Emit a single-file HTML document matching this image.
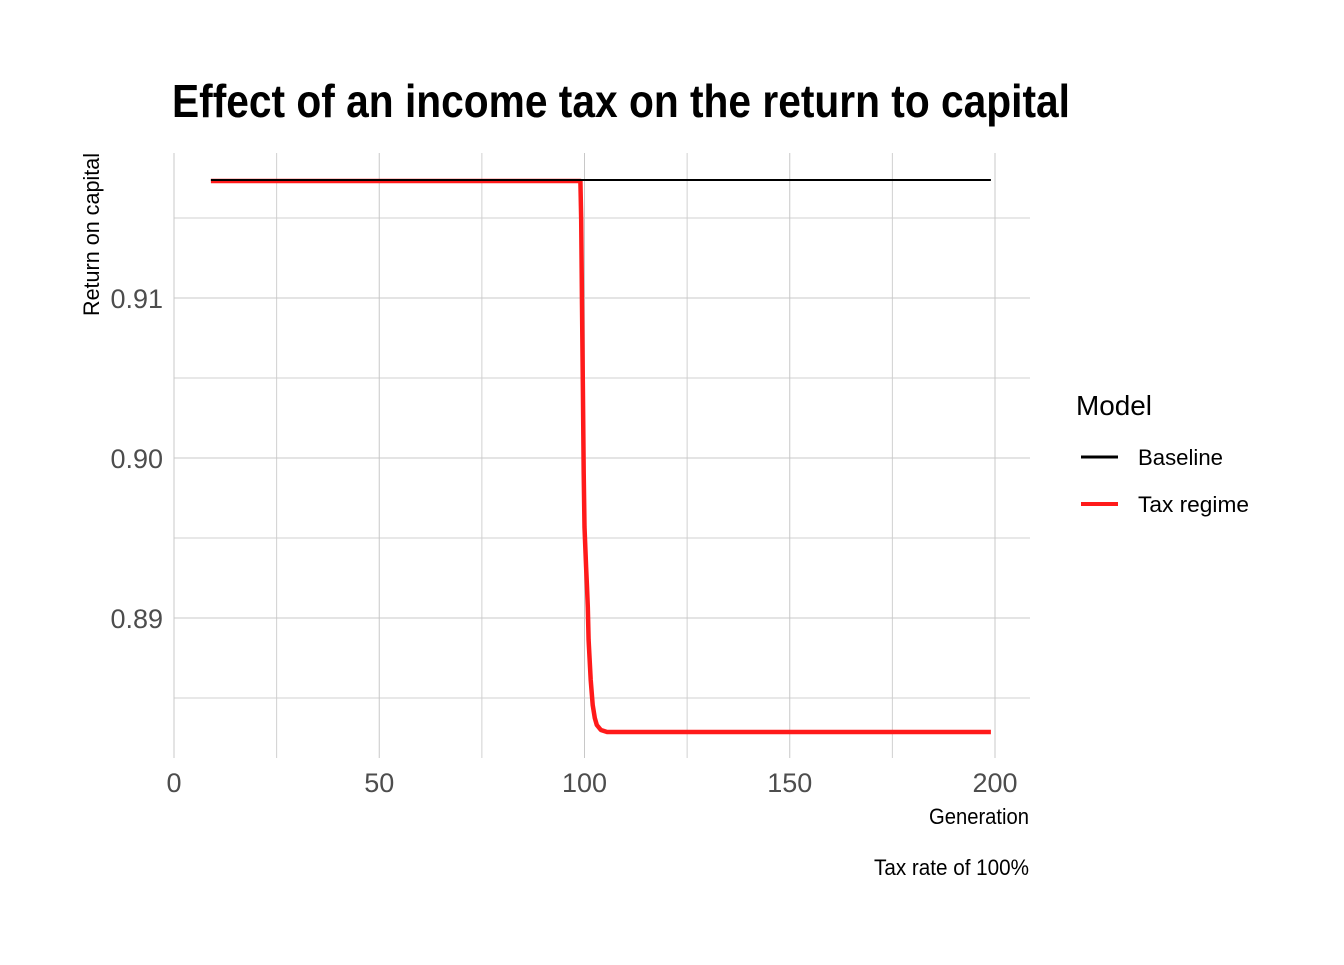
<!DOCTYPE html>
<html><head><meta charset="utf-8"><style>
body{margin:0;background:#fff}
svg text{font-family:"Liberation Sans Narrow","Liberation Sans",sans-serif}
</style></head><body>
<svg id="chart" width="1344" height="960" xmlns="http://www.w3.org/2000/svg">
<rect width="1344" height="960" fill="#fff"/>
<text x="172" y="117" font-size="46" font-weight="bold" fill="#000" textLength="898" lengthAdjust="spacingAndGlyphs">Effect of an income tax on the return to capital</text>
<g id="grid"></g>
<g id="series"></g>
<g id="ticks"></g>
<text transform="translate(99,316) rotate(-90)" font-size="22" fill="#000" textLength="163" lengthAdjust="spacingAndGlyphs">Return on capital</text>
<text x="1029" y="824" text-anchor="end" font-size="22" fill="#000" textLength="100" lengthAdjust="spacingAndGlyphs">Generation</text>
<text x="1029" y="875" text-anchor="end" font-size="22" fill="#000" textLength="155" lengthAdjust="spacingAndGlyphs">Tax rate of 100%</text>
<g>
<text x="1076" y="415" font-size="28" fill="#000" textLength="76" lengthAdjust="spacingAndGlyphs">Model</text>
<line x1="1081" x2="1118" y1="457" y2="457" stroke="#000" stroke-width="3"/>
<text x="1138" y="465" font-size="22" fill="#000" textLength="85" lengthAdjust="spacingAndGlyphs">Baseline</text>
<line x1="1081" x2="1118" y1="504" y2="504" stroke="#ff1a1a" stroke-width="4"/>
<text x="1138" y="512" font-size="22" fill="#000" textLength="111" lengthAdjust="spacingAndGlyphs">Tax regime</text>
</g>
</svg>
<script>
const xTicks = [0, 50, 100, 150, 200];
const xMinor = [25, 75, 125, 175];
const yTicks = [0.89, 0.90, 0.91];
const yTickLabels = ["0.89", "0.90", "0.91"];
const yMinor = [0.885, 0.895, 0.905, 0.915];
const baselineGen = [9, 199];
const baselineVal = [0.917375, 0.917375];
const taxGen = [9, 99, 99.2, 99.4, 99.6, 99.8, 100, 100.2, 100.4, 100.6, 100.8, 101, 101.5, 102, 102.5, 103, 104, 105.5, 199];
const taxVal = [0.91731, 0.91731, 0.914875, 0.90956, 0.90425, 0.89906, 0.89569, 0.89444, 0.89319, 0.89194, 0.89069, 0.88863, 0.88613, 0.88456, 0.88375, 0.88331, 0.8830, 0.882875, 0.882875];

const X = g => 174 + g * 4.105;
const Y = v => 298 + (0.91 - v) * 16000;
const NS = "http://www.w3.org/2000/svg";
const P = {l:174, r:1030, t:153, b:758};
function mk(tag, attrs, parent){const e=document.createElementNS(NS,tag);for(const k in attrs)e.setAttribute(k,attrs[k]);parent.appendChild(e);return e;}
const grid=document.getElementById('grid'), ticks=document.getElementById('ticks'), series=document.getElementById('series');
yMinor.forEach(v=>{const e=mk('line',{x1:P.l,x2:P.r,y1:Y(v),y2:Y(v),stroke:'#d0d0d0','stroke-width':1},grid);

});
xMinor.forEach(g=>{const e=mk('line',{x1:X(g),x2:X(g),y1:P.t,y2:P.b,stroke:'#d0d0d0','stroke-width':1},grid);

});
yTicks.forEach((v,i)=>{const e=mk('line',{x1:P.l,x2:P.r,y1:Y(v),y2:Y(v),stroke:'#c8c8c8','stroke-width':1},grid);


const t=mk('text',{x:163,y:Y(v)+10,'text-anchor':'end','font-size':27,fill:'#4d4d4d'},ticks);t.textContent=yTickLabels[i];

});
xTicks.forEach(g=>{const e=mk('line',{x1:X(g),x2:X(g),y1:P.t,y2:P.b,stroke:'#c8c8c8','stroke-width':1},grid);


const t=mk('text',{x:X(g),y:792,'text-anchor':'middle','font-size':27,fill:'#4d4d4d'},ticks);t.textContent=String(g);

});
function path(gs,vs){return gs.map((g,i)=>(i?'L':'M')+X(g).toFixed(1)+','+Y(vs[i]).toFixed(1)).join(' ');}
const tl=mk('path',{d:path(taxGen,taxVal),fill:'none',stroke:'#ff1a1a','stroke-width':4.5,'stroke-linejoin':'round'},series);


const bl=mk('path',{d:path(baselineGen,baselineVal),fill:'none',stroke:'#000','stroke-width':2},series);


</script>
</body></html>
